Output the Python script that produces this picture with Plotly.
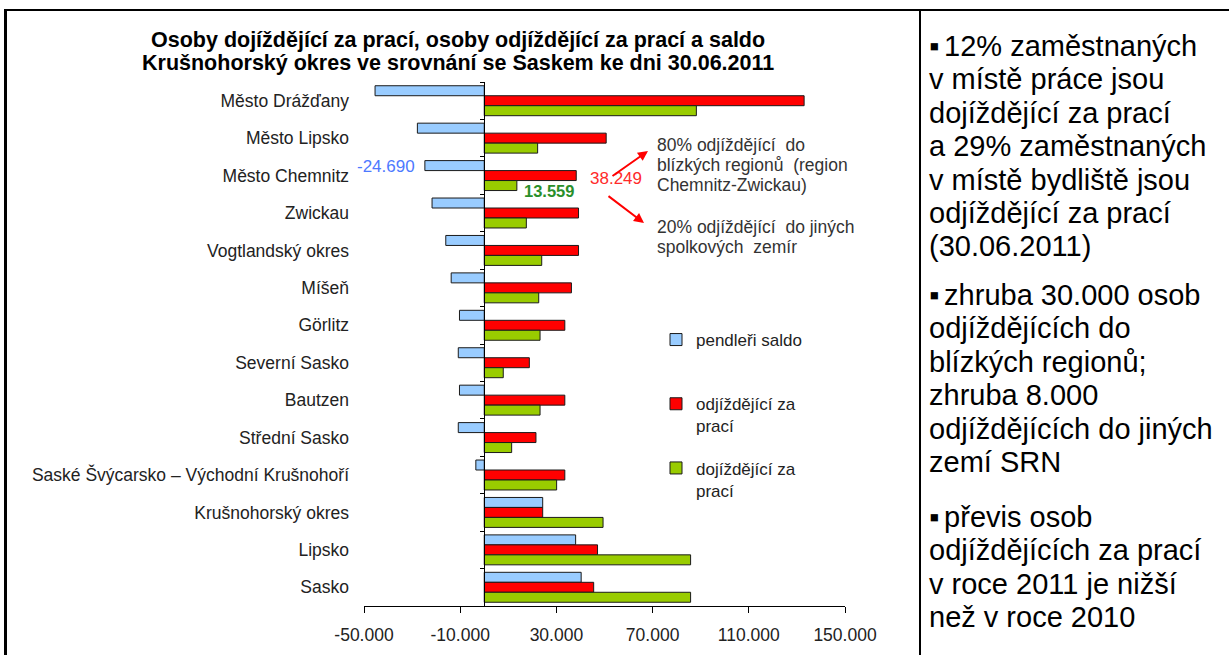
import plotly.graph_objects as go

W, H = 1229, 655

categories = ["Město Drážďany", "Město Lipsko", "Město Chemnitz", "Zwickau",
              "Vogtlandský okres", "Míšeň", "Görlitz", "Severní Sasko", "Bautzen",
              "Střední Sasko", "Saské Švýcarsko – Východní Krušnohoří",
              "Krušnohorský okres", "Lipsko", "Sasko"]
saldo = [-45400, -27800, -24690, -21700, -16000, -13750, -10300, -10800, -10300,
         -10800, -3500, 24300, 38000, 40300]
odjizdejici = [133000, 50700, 38249, 39200, 39200, 36250, 33500, 18750, 33500,
               21500, 33500, 24300, 47100, 45500]
dojizdejici = [88200, 22200, 13559, 17500, 23900, 22650, 23200, 7900, 23200,
               11400, 30100, 49400, 85800, 85800]

series_names = ["pendleři saldo<br>\u00a0", "odjíždějící za<br>prací", "dojíždějící za<br>prací"]
series_colors = ["#99CCFF", "#FF0000", "#99CC00"]

tick_vals = [-50000, -10000, 30000, 70000, 110000, 150000]
tick_text = ["-50.000", "-10.000", "30.000", "70.000", "110.000", "150.000"]

title_lines = ["Osoby dojíždějící za prací, osoby odjíždějící za prací a saldo",
               "Krušnohorský okres ve srovnání se Saskem ke dni 30.06.2011"]
note_lines_1 = ["80% odjíždějící  do", "blízkých regionů  (region", "Chemnitz-Zwickau)"]
note_lines_2 = ["20% odjíždějící  do jiných", "spolkových  zemír"]
BULLET = "▪\u2006"
panel_paragraphs = [
    [BULLET + "12% zaměstnaných", "v místě práce jsou", "dojíždějící za prací",
     "a 29% zaměstnaných", "v místě bydliště jsou", "odjíždějící za prací", "(30.06.2011)"],
    [BULLET + "zhruba 30.000 osob", "odjíždějících do", "blízkých regionů;", "zhruba 8.000",
     "odjíždějících do jiných", "zemí SRN"],
    [BULLET + "převis osob", "odjíždějících za prací", "v roce 2011 je nižší", "než v roce 2010"],
]

FONT = "Liberation Sans, Arial, sans-serif"


def px(x):
    return x / W


def py(y):
    return 1 - y / H


x0, x1 = 364, 845
y_top, y_bot = 82, 606
xdom = [px(x0), px(x1)]
ydom = [py(y_bot), py(y_top)]
xmin, xmax = tick_vals[0], tick_vals[-1]
zero_pos = xdom[0] + (0 - xmin) / (xmax - xmin) * (xdom[1] - xdom[0])

fig = go.Figure()
for name, vals, col in zip(series_names, [saldo, odjizdejici, dojizdejici], series_colors):
    fig.add_trace(go.Bar(
        y=categories, x=vals, orientation="h", name=name, legendgroup=name,
        marker=dict(color=col, line=dict(color="#1a1a1a", width=1)),
    ))

# helper trace so the zero-crossing category axis is drawn
fig.add_trace(go.Scatter(x=[0], y=[categories[0]], yaxis="y2", mode="markers",
                         marker=dict(opacity=0, size=1), showlegend=False,
                         hoverinfo="skip"))

n = len(categories)
fig.update_layout(
    width=W, height=H,
    margin=dict(l=0, r=0, t=0, b=0),
    paper_bgcolor="white", plot_bgcolor="white",
    barmode="group", bargap=0.2, bargroupgap=0,
    font=dict(family=FONT, size=17, color="#222222"),
    xaxis=dict(domain=xdom, range=[xmin, xmax], tickvals=tick_vals, ticktext=tick_text,
               showgrid=False, zeroline=False, showline=True, linecolor="black",
               linewidth=1, ticks="outside", ticklen=6, tickcolor="black",
               tickfont=dict(size=17.5, color="#222222"), ticklabelstandoff=7,
               automargin=False, anchor="y"),
    yaxis=dict(domain=ydom, type="category", categoryorder="array", categoryarray=categories,
               range=[n - 0.5, -0.5], showgrid=False, zeroline=False, showline=False,
               ticks="", tickfont=dict(size=17.5, color="#222222"), ticklabelstandoff=14,
               automargin=False, anchor="x"),
    yaxis2=dict(type="category", categoryorder="array", categoryarray=categories,
                range=[n - 0.5, -0.5], overlaying="y", anchor="free", position=zero_pos,
                side="left", showgrid=False, zeroline=False, showline=True,
                linecolor="black", linewidth=1, ticks="outside", ticklen=4,
                tickcolor="black", tickson="boundaries", showticklabels=False,
                automargin=False),
    legend=dict(x=px(656), y=py(322), xanchor="left", yanchor="top",
                traceorder="grouped", tracegroupgap=17, valign="top",
                font=dict(size=17, color="#222222"), bgcolor="rgba(0,0,0,0)",
                itemwidth=30),
    showlegend=True,
)

ann = []
# title
for i, t in enumerate(title_lines):
    ann.append(dict(text=f"<b>{t}</b>", x=px(458), y=py(40 + 23 * i), xref="paper",
                    yref="paper", xanchor="center", yanchor="middle", showarrow=False,
                    font=dict(size=21.5, color="black", family=FONT)))


def fmt(v):
    return f"{v:,}".replace(",", ".")


ci = categories.index("Město Chemnitz")
ann.append(dict(text=fmt(saldo[ci]), x=saldo[ci], y=categories[ci], xref="x", yref="y",
                xanchor="right", yanchor="middle", xshift=-8, yshift=9, showarrow=False,
                font=dict(size=17, color="#4D79FF", family=FONT)))
ann.append(dict(text=fmt(odjizdejici[ci]), x=odjizdejici[ci], y=categories[ci], xref="x",
                yref="y", xanchor="left", yanchor="middle", xshift=12, yshift=-3,
                showarrow=False, font=dict(size=17, color="#FF2A2A", family=FONT)))
ann.append(dict(text=f"<b>{fmt(dojizdejici[ci])}</b>", x=dojizdejici[ci], y=categories[ci],
                xref="x", yref="y", xanchor="left", yanchor="middle", xshift=5, yshift=-15,
                showarrow=False, font=dict(size=16.5, color="#2A8F2A", family=FONT)))

# notes next to arrows
for i, t in enumerate(note_lines_1):
    ann.append(dict(text=t, x=px(655), y=py(145 + 20 * i), xref="paper", yref="paper",
                    xanchor="left", yanchor="middle", showarrow=False,
                    font=dict(size=17.5, color="#333333", family=FONT)))
for i, t in enumerate(note_lines_2):
    ann.append(dict(text=t, x=px(655), y=py(227 + 20 * i), xref="paper", yref="paper",
                    xanchor="left", yanchor="middle", showarrow=False,
                    font=dict(size=17.5, color="#333333", family=FONT)))

# arrows
for (hx, hy, tx, ty) in [(648, 151, 611, 177), (644, 223, 607, 195)]:
    ann.append(dict(text="", x=px(hx), y=py(hy), xref="paper", yref="paper",
                    ax=tx - hx, ay=ty - hy, axref="pixel", ayref="pixel", showarrow=True,
                    arrowhead=2, arrowsize=1, arrowwidth=2, arrowcolor="#FF0000"))

# right panel
starts = [46, 295, 517]
for para, y0 in zip(panel_paragraphs, starts):
    for i, t in enumerate(para):
        ann.append(dict(text=t, x=px(927), y=py(y0 + 33.4 * i), xref="paper", yref="paper",
                        xanchor="left", yanchor="middle", showarrow=False,
                        font=dict(size=29, color="black", family=FONT)))

fig.update_layout(annotations=ann)

shapes = [
    dict(type="line", xref="paper", yref="paper", x0=px(4), x1=1, y0=py(10), y1=py(10),
         line=dict(color="black", width=2)),
    dict(type="line", xref="paper", yref="paper", x0=px(5.5), x1=px(5.5), y0=py(9), y1=0,
         line=dict(color="black", width=3)),
    dict(type="line", xref="paper", yref="paper", x0=px(920), x1=px(920), y0=py(10), y1=0,
         line=dict(color="black", width=2)),
]
fig.update_layout(shapes=shapes)

fig.write_html("out.html", config={"displayModeBar": False},
               post_script="document.body.style.margin='0';document.body.style.overflow='hidden';")
